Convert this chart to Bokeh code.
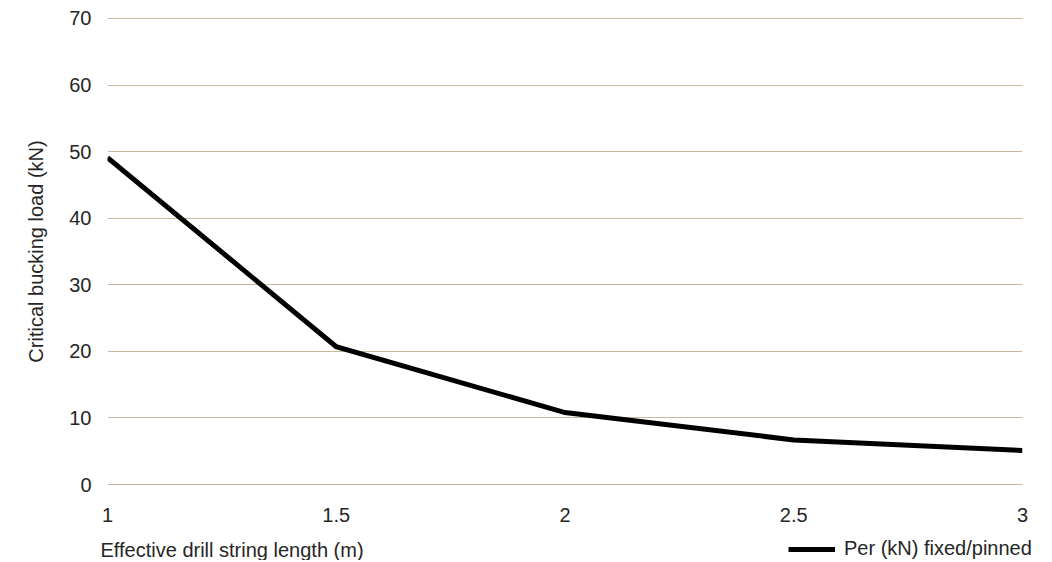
from bokeh.plotting import figure
from bokeh.models import Range1d, Legend, LegendItem, FixedTicker, Label
from bokeh.embed import file_html
from bokeh.resources import INLINE

lengths = [1, 1.5, 2, 2.5, 3]
per_kn = [49.1, 20.7, 10.8, 6.7, 5.1]
x_ticks = [1, 1.5, 2, 2.5, 3]
y_ticks = [0, 10, 20, 30, 40, 50, 60, 70]
series_name = "Per (kN) fixed/pinned"
x_title = "Effective drill string length (m)"
y_title = "Critical bucking load (kN)"

FONT = "Liberation Sans"
TXT = "#262626"
FS = "20px"
W = 1050

p = figure(width=W, height=530, output_backend="svg", toolbar_location=None,
           x_range=Range1d(1, 3), y_range=Range1d(-0.15, 70.15),
           min_border_left=107, min_border_right=28, min_border_top=17, min_border_bottom=45)
p.outline_line_color = None
p.background_fill_color = "white"

r = p.line(lengths, per_kn, line_color="black", line_width=5, line_join="miter")

p.xaxis.ticker = FixedTicker(ticks=x_ticks)
p.yaxis.ticker = FixedTicker(ticks=y_ticks)
for ax in (p.xaxis, p.yaxis):
    ax.axis_line_color = None
    ax.major_tick_line_color = None
    ax.minor_tick_line_color = None
    ax.major_label_text_font = FONT
    ax.major_label_text_font_size = FS
    ax.major_label_text_color = TXT
p.xaxis.major_label_standoff = 16
p.yaxis.major_label_standoff = 10

p.yaxis.axis_label = y_title
p.yaxis.axis_label_text_font = FONT
p.yaxis.axis_label_text_font_size = FS
p.yaxis.axis_label_text_font_style = "normal"
p.yaxis.axis_label_text_color = TXT
p.yaxis.axis_label_standoff = 19

p.xgrid.grid_line_color = None
p.ygrid.ticker = FixedTicker(ticks=y_ticks)
p.ygrid.grid_line_color = "#c9b99b"
p.ygrid.grid_line_width = 1

# footer row (separate root): x-axis title (left) and legend (right)
f = figure(width=W, height=30, output_backend="svg", toolbar_location=None,
           x_range=Range1d(0, 1), y_range=Range1d(0, 1),
           x_axis_location=None, y_axis_location=None,
           min_border_left=0, min_border_right=0, min_border_top=0, min_border_bottom=0)
f.outline_line_color = None
f.xgrid.grid_line_color = None
f.ygrid.grid_line_color = None
# same series, lying outside this footer's view: only its legend swatch shows
r_leg = f.line(lengths, per_kn, line_color="black", line_width=5)

f.add_layout(Label(x=100, y=11, x_units="screen", y_units="screen", text=x_title,
                   text_font=FONT, text_font_size=FS, text_color=TXT,
                   text_baseline="middle", text_align="left"))

legend = Legend(items=[LegendItem(label=series_name, renderers=[r_leg])],
                location=(788, 0), orientation="horizontal",
                glyph_width=47, glyph_height=20, label_standoff=9,
                padding=0, margin=0, spacing=0,
                label_text_font=FONT, label_text_font_size=FS, label_text_color=TXT,
                background_fill_alpha=0, border_line_color=None)
f.add_layout(legend, "center")

open("out.html", "w").write(file_html([p, f], INLINE))
